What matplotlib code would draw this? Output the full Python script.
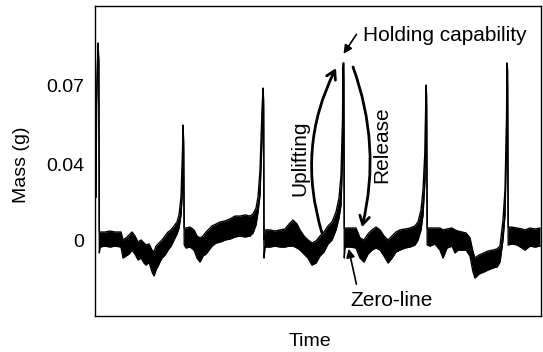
import numpy as np
import matplotlib
matplotlib.use("Agg")
import matplotlib.pyplot as plt

plt.rcParams['font.family'] = ['Liberation Sans', 'DejaVu Sans']

# trace: time (arbitrary), upper and lower edge of the noisy band (g)
time = [1, 1.5, 3, 3.8, 4.3, 5, 10, 15, 20, 26, 28, 31, 34, 37, 40, 43, 46, 49, 51, 54,
        57, 59, 61, 64, 67, 70, 73, 76, 79, 82, 84, 86, 87.5, 88, 88.6, 89.2,
        91, 95, 99, 102, 105, 108, 111, 114, 117, 121, 125, 130, 135, 140, 145, 150, 155,
        158, 161, 163, 165, 167, 168, 168.6, 169, 170,
        175, 180, 185, 190, 194, 198, 202, 205, 209, 213, 217, 221, 225, 229, 233, 237,
        241, 244, 246, 247.5, 248, 248.8, 249.3, 250,
        255, 261, 265, 269, 273, 277, 281, 285, 289, 293, 297, 301, 305, 310, 315, 320,
        323, 326, 328, 330, 331, 331.6, 332.2,
        335, 340, 345, 348, 352, 357, 360, 363, 367, 371, 375, 378, 380, 384, 389, 393,
        398, 402, 405, 408, 410, 411.5, 412, 412.6, 413.2,
        417, 422, 427, 430, 435, 440, 445]
upper = [0.0226, 0.0737, 0.1037, 0.0947, 0.0042, 0.0042, 0.0042, 0.0047, 0.0042, 0.0042,
         0.0000, 0.0011, 0.0026, 0.0042, 0.0021, -0.0011, 0.0000, -0.0016, -0.0026, -0.0021,
         -0.0053, -0.0063, -0.0032, -0.0016, 0.0000, 0.0021, 0.0042, 0.0053, 0.0074, 0.0095,
         0.0132, 0.0226, 0.0474, 0.0605, 0.0526, 0.0063,
         0.0063, 0.0068, 0.0053, 0.0021, 0.0011, 0.0021, 0.0042, 0.0058, 0.0074, 0.0084,
         0.0095, 0.0100, 0.0111, 0.0126, 0.0126, 0.0132, 0.0126,
         0.0137, 0.0168, 0.0226, 0.0368, 0.0684, 0.0800, 0.0737, 0.0000, 0.0053,
         0.0053, 0.0047, 0.0053, 0.0058, 0.0084, 0.0105, 0.0084, 0.0053, 0.0021, 0.0000,
         -0.0016, -0.0005, 0.0021, 0.0042, 0.0074, 0.0095,
         0.0147, 0.0221, 0.0342, 0.0632, 0.0932, 0.0932, 0.0063, 0.0063,
         0.0063, 0.0063, 0.0011, 0.0000, 0.0032, 0.0053, 0.0068, 0.0053, 0.0021, 0.0000,
         0.0021, 0.0042, 0.0053, 0.0058, 0.0063, 0.0074,
         0.0095, 0.0158, 0.0263, 0.0474, 0.0816, 0.0763, 0.0063,
         0.0063, 0.0063, 0.0063, 0.0053, 0.0058, 0.0063, 0.0053, 0.0047, 0.0042, 0.0037,
         0.0011, -0.0063, -0.0095, -0.0079, -0.0068, -0.0058,
         -0.0053, -0.0047, -0.0032, 0.0105, 0.0263, 0.0632, 0.0932, 0.0895, 0.0068,
         0.0068, 0.0063, 0.0058, 0.0053, 0.0063, 0.0058, 0.0063]
lower = [0.0226, 0.0711, 0.1021, 0.0895, -0.0068, -0.0037, -0.0032, -0.0037, -0.0032, -0.0037,
         -0.0095, -0.0084, -0.0074, -0.0053, -0.0074, -0.0105, -0.0095, -0.0121, -0.0132, -0.0116,
         -0.0168, -0.0189, -0.0158, -0.0126, -0.0095, -0.0079, -0.0053, -0.0032, 0.0000, 0.0032,
         0.0063, 0.0132, 0.0263, 0.0579, 0.0474, -0.0026,
         -0.0042, -0.0037, -0.0053, -0.0095, -0.0116, -0.0084, -0.0074, -0.0053, -0.0032, -0.0016,
         -0.0011, 0.0000, 0.0005, 0.0016, 0.0021, 0.0016, 0.0021,
         0.0037, 0.0079, 0.0147, 0.0237, 0.0526, 0.0779, 0.0684, -0.0095, -0.0037,
         -0.0037, -0.0032, -0.0037, -0.0037, -0.0032, -0.0032, -0.0042, -0.0053, -0.0074, -0.0095,
         -0.0132, -0.0121, -0.0084, -0.0063, -0.0021, 0.0000,
         0.0053, 0.0116, 0.0184, 0.0421, 0.0916, 0.0842, -0.0095, -0.0037,
         -0.0037, -0.0042, -0.0095, -0.0116, -0.0074, -0.0053, -0.0042, -0.0053, -0.0084, -0.0121,
         -0.0095, -0.0063, -0.0053, -0.0042, -0.0037, -0.0026,
         0.0000, 0.0053, 0.0132, 0.0316, 0.0789, 0.0684, -0.0026,
         -0.0032, -0.0021, -0.0053, -0.0095, -0.0042, -0.0032, -0.0068, -0.0053, -0.0053, -0.0053,
         -0.0084, -0.0168, -0.0200, -0.0179, -0.0168, -0.0158,
         -0.0147, -0.0142, -0.0116, 0.0000, 0.0132, 0.0474, 0.0916, 0.0789, -0.0026,
         -0.0021, -0.0026, -0.0042, -0.0053, -0.0032, -0.0037, -0.0032]

ytick_pos = [0, 0.040, 0.0811]
ytick_labels = ['0', '0.04', '0.07']

fig = plt.figure(figsize=(5.43, 3.52), dpi=100)
ax = fig.add_axes([0.175, 0.1023, 0.8213, 0.8807])

ax.fill_between(time, lower, upper, color='black', lw=0)
ax.plot(time, upper, color='black', lw=1.0)
ax.plot(time, lower, color='black', lw=1.0)

ax.set_xlim(0, 446)
ax.set_ylim(-0.040, 0.1232)
ax.set_xticks([])
ax.set_yticks(ytick_pos)
ax.set_yticklabels(ytick_labels)
ax.tick_params(axis='y', length=0, pad=8, labelsize=14)
for s in ax.spines.values():
    s.set_linewidth(1.0)

ax.set_xlabel('Time', fontsize=14)
ax.xaxis.set_label_coords(0.482, -0.055)
ax.set_ylabel('Mass (g)', fontsize=14)
ax.yaxis.set_label_coords(-0.145, 0.487)

# annotations
ax.text(268, 0.1079, 'Holding capability', fontsize=15, ha='left', va='center')
ax.annotate('', xy=(247, 0.0968), xytext=(263, 0.1095),
            arrowprops=dict(arrowstyle='-|>,head_length=0.5,head_width=0.25', color='black', lw=1.2))

ax.text(297, -0.0321, 'Zero-line', fontsize=15, ha='center', va='center')
ax.annotate('', xy=(253, -0.0032), xytext=(262, -0.0247),
            arrowprops=dict(arrowstyle='-|>,head_length=0.5,head_width=0.25', color='black', lw=1.2))

ax.text(205, 0.0432, 'Uplifting', fontsize=15, rotation=90, ha='center', va='center')
ax.annotate('', xy=(241, 0.0905), xytext=(227, 0.0037),
            arrowprops=dict(arrowstyle='->,head_length=0.6,head_width=0.35', color='black', lw=2,
                            connectionstyle='arc3,rad=-0.2', shrinkA=0, shrinkB=0))

ax.text(287, 0.0500, 'Release', fontsize=15, rotation=90, ha='center', va='center')
ax.annotate('', xy=(267, 0.0068), xytext=(258, 0.0911),
            arrowprops=dict(arrowstyle='->,head_length=0.6,head_width=0.35', color='black', lw=2,
                            connectionstyle='arc3,rad=-0.15', shrinkA=0, shrinkB=0))

fig.savefig('out.png', dpi=100)
